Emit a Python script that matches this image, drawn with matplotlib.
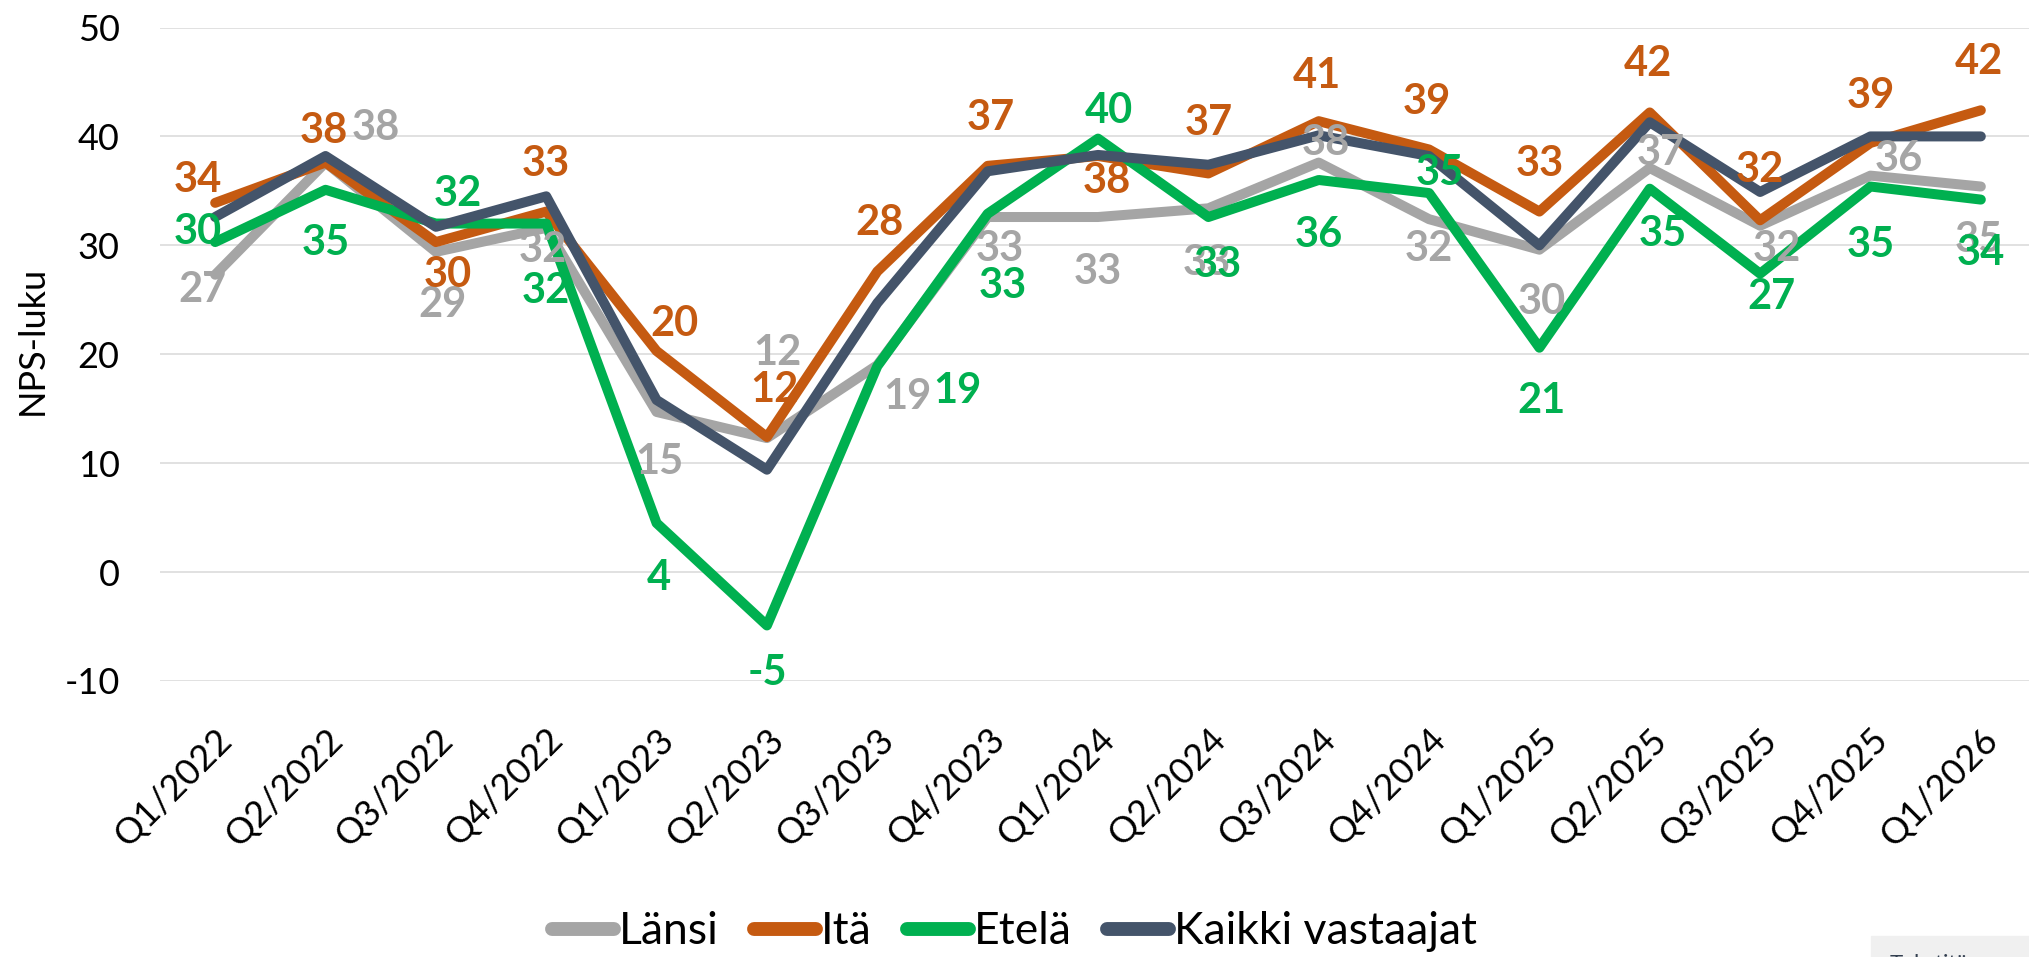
import matplotlib
matplotlib.use("Agg")
import matplotlib.pyplot as plt
from matplotlib.lines import Line2D
from matplotlib.patches import Rectangle

plt.rcParams["axes.unicode_minus"] = False

quarters = ["Q1/2022", "Q2/2022", "Q3/2022", "Q4/2022", "Q1/2023", "Q2/2023",
            "Q3/2023", "Q4/2023", "Q1/2024", "Q2/2024", "Q3/2024", "Q4/2024",
            "Q1/2025", "Q2/2025", "Q3/2025", "Q4/2025", "Q1/2026"]

lansi = [27.3, 37.6, 29.4, 31.6, 14.7, 12.3, 19.0, 32.6, 32.6, 33.4, 37.6, 32.4,
         29.6, 37.1, 31.8, 36.4, 35.4]
ita = [33.9, 37.6, 30.3, 33.1, 20.3, 12.4, 27.6, 37.3, 38.2, 36.6, 41.4, 38.8,
       33.1, 42.2, 32.3, 39.4, 42.4]
etela = [30.3, 35.1, 32.0, 32.0, 4.5, -4.9, 18.9, 32.9, 39.8, 32.6, 36.0, 34.8,
         20.6, 35.2, 27.4, 35.4, 34.2]
kaikki = [32.6, 38.2, 31.7, 34.5, 15.8, 9.4, 24.7, 36.8, 38.3, 37.4, 40.1, 38.2,
          30.0, 41.3, 34.9, 40.0, 40.0]

series_names = ["Länsi", "Itä", "Etelä", "Kaikki vastaajat"]
colors = ["#A5A5A5", "#C55A11", "#00B050", "#44546A"]

# data label offsets in pixels (dx right, dy down), as placed in the original
lansi_off = [(-13, 15), (50, -35), (7, 53), (-3, 22), (3, 50), (10, -85), (30, 32),
             (12, 32), (0, 55), (-2, 55), (7, -20), (0, 30), (2, 52), (11, -15),
             (17, 23), (28, -17), (-2, 53)]
ita_off = [(-17, -23), (-2, -32), (12, 33), (0, -48), (18, -27), (7, -47), (2, -48),
           (3, -48), (9, 25), (0, -50), (-2, -45), (-2, -47), (0, -48), (-2, -48),
           (0, -50), (0, -47), (-2, -48)]
etela_off = [(-17, -10), (0, 53), (22, -30), (0, 67), (2, 55), (0, 48), (80, 25),
             (15, 72), (11, -28), (9, 48), (0, 55), (11, -20), (2, 53), (13, 45),
             (11, 23), (0, 58), (0, 53)]

W, H, DPI = 2029, 957, 100
fig = plt.figure(figsize=(W / DPI, H / DPI), dpi=DPI)
ax = fig.add_axes([160 / W, 1 - 681 / H, (2036 - 160) / W, (681 - 27.5) / H])

x = list(range(len(quarters)))
all_series = [lansi, ita, etela, kaikki]
for vals, name, col in zip(all_series, series_names, colors):
    ax.plot(x, vals, color=col, linewidth=7.2, solid_joinstyle="round",
            solid_capstyle="round", label=name, zorder=3)

for vals, offs, col in zip([lansi, ita, etela], [lansi_off, ita_off, etela_off], colors[:3]):
    for xi, v, (dx, dy) in zip(x, vals, offs):
        ax.annotate(f"{v:.0f}", (xi, v), xytext=(dx, -dy), textcoords="offset pixels",
                    ha="center", va="center", color=col, fontsize=30,
                    fontweight="bold", family="Lato", zorder=5)

ax.set_xlim(-0.5, len(quarters) - 0.5)
ax.set_ylim(-10, 50)
ax.set_yticks(range(-10, 51, 10))
ax.set_xticks(x)
ax.set_xticklabels(quarters, rotation=45, ha="right", va="top",
                   rotation_mode="anchor", family="Lato", fontsize=26)
for lab in ax.get_yticklabels():
    lab.set_family("Lato")
    lab.set_fontsize(26)
ax.tick_params(axis="both", length=0)
ax.tick_params(axis="y", pad=29)
ax.tick_params(axis="x", pad=30)
ax.grid(axis="y", color="#D9D9D9", linewidth=1.1)
ax.set_axisbelow(True)
for sp in ax.spines.values():
    sp.set_visible(False)

fig.text(32 / W, 1 - 340 / H, "NPS-luku", rotation=90, ha="center", va="center",
         fontsize=26, family="Lato")

handles = [Line2D([0], [0], color=c, linewidth=10, solid_capstyle="round") for c in colors]
fig.legend(handles, series_names, loc="center", bbox_to_anchor=(0.5, 1 - 932 / H),
           ncol=4, frameon=False, prop={"family": "Lato", "size": 32},
           handlelength=1.4, handletextpad=0.1, columnspacing=0.8)

# light grey box in the lower right corner (cut off in the original)
fig.patches.append(Rectangle((1871 / W, 0), 1 - 1871 / W, (957 - 936) / H,
                             transform=fig.transFigure, color="#F0F0F0", zorder=0))
fig.text(1890 / W, 1 - 954 / H, "Tekstitä", ha="left", va="top", fontsize=16,
         color="#333F50", family="Lato")

fig.savefig("out.png", dpi=DPI)
